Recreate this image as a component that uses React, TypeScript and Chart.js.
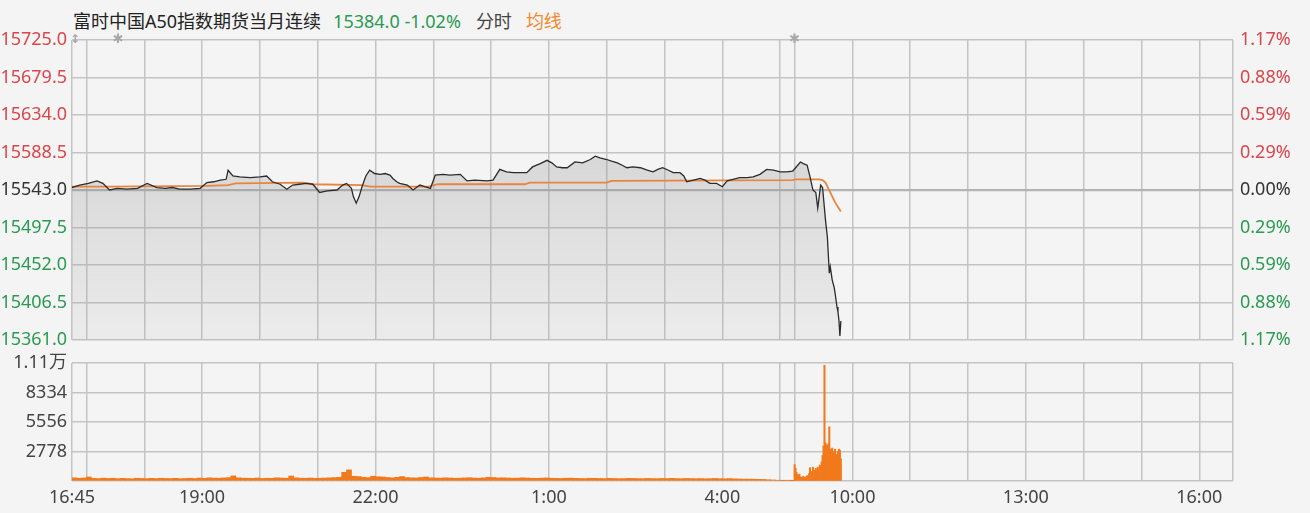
import React, { useEffect, useRef } from 'react';
import { Chart, registerables } from 'chart.js';

Chart.register(...registerables);

const FONT = "'Noto Sans', 'Noto Sans CJK SC', sans-serif";
const RED = '#d9464c';
const GREEN = '#2b9a52';
const DARK = '#333333';
const AXIS_TEXT = '#444444';
const GRID = '#c4c4c4';
const BG = '#f4f4f4';
const VOL_COLOR = '#f27a1c';
const AVG_COLOR = '#e8843e';

const prevClose = 15543.0;
const priceTicks = [15361.0, 15406.5, 15452.0, 15497.5, 15543.0, 15588.5, 15634.0, 15679.5, 15725.0];
const volumeTicks = [0, 2778, 5556, 8334, 11112];
const volumeMaxLabel = '1.11万';

// minutes on the compressed session axis: 0 = 16:45, 750 = 05:15 | 09:00, 1205 = 16:35
const axisEndMinute = 1205;
const gridMinutes = [0, 15, 75, 135, 195, 255, 315, 375, 435, 495, 555, 615, 675, 735, 750, 810, 870, 930, 990, 1050, 1110, 1170, 1205];
const timeLabelMinutes = [0, 135, 315, 495, 675, 810, 990, 1170];
const timeLabels = ['16:45', '19:00', '22:00', '1:00', '4:00', '10:00', '13:00', '16:00'];
const markerMinutes = [48, 750];

const priceMinutes = [0, 8, 17, 26, 32, 39, 47, 57, 68, 78, 88, 97, 104, 112, 123, 133, 140, 147, 154, 160, 162, 167, 174, 185, 195, 202, 208, 216, 223, 229, 236, 243, 250, 257, 265, 275, 281, 285, 290, 292, 295, 298, 301, 305, 309, 314, 320, 325, 330, 333, 337, 340, 348, 354, 361, 366, 372, 377, 385, 392, 403, 410, 418, 431, 437, 444, 451, 458, 465, 472, 478, 486, 493, 498, 503, 509, 514, 522, 530, 538, 543, 548, 555, 560, 566, 571, 576, 582, 590, 597, 603, 608, 613, 619, 624, 631, 635, 638, 645, 652, 657, 662, 669, 675, 680, 686, 693, 701, 707, 714, 721, 728, 735, 742, 748, 751, 756, 759, 763, 766, 769, 772, 774, 775, 777, 779, 782, 784, 786, 787, 789, 791, 792, 794, 795, 796, 797, 798];
const priceValues = [15546, 15549, 15551, 15554, 15551, 15543, 15545, 15544, 15545, 15551, 15546, 15545, 15546, 15544, 15544, 15545, 15552, 15553, 15555, 15556, 15567, 15560, 15559, 15558, 15559, 15560, 15553, 15550, 15544, 15549, 15550, 15551, 15550, 15540, 15542, 15543, 15549, 15551, 15545, 15535, 15527, 15535, 15547, 15560, 15567, 15563, 15562, 15563, 15561, 15557, 15553, 15551, 15549, 15543, 15549, 15547, 15545, 15561, 15562, 15561, 15562, 15554, 15555, 15554, 15555, 15568, 15565, 15564, 15564, 15564, 15571, 15575, 15579, 15576, 15571, 15570, 15570, 15577, 15576, 15580, 15584, 15582, 15580, 15578, 15576, 15573, 15570, 15571, 15570, 15567, 15565, 15568, 15570, 15567, 15564, 15564, 15560, 15553, 15555, 15557, 15555, 15551, 15551, 15547, 15554, 15556, 15558, 15558, 15559, 15562, 15568, 15567, 15565, 15565, 15566, 15570, 15577, 15575, 15573, 15559, 15543, 15540, 15521, 15530, 15549, 15546, 15507, 15486, 15442, 15450, 15434, 15425, 15418, 15401, 15395, 15385, 15366, 15384];

const avgMinutes = [0, 39, 140, 162, 170, 240, 250, 300, 310, 370, 380, 470, 475, 555, 560, 748, 751, 775, 779, 782, 787, 792, 798];
const avgValues = [15547, 15547, 15548, 15549, 15551, 15552, 15550, 15549, 15547, 15547, 15550, 15550, 15552, 15552, 15554, 15555, 15556, 15556, 15555, 15552, 15540, 15528, 15517];

// night session volume, one value per 5-minute bucket starting at 16:45
const nightBucketSize = 5;
const nightVolumes = [
  300, 260, 280, 380, 250, 230, 270, 240, 260, 220,
  250, 230, 210, 260, 240, 220, 250, 230, 260, 240,
  230, 250, 220, 240, 260, 230, 280, 250, 300, 270,
  260, 290, 320, 480, 300, 270, 260, 250, 280, 240,
  260, 250, 300, 280, 260, 470, 300, 270, 260, 280,
  250, 260, 280, 300, 320, 350, 820, 1050, 450, 420,
  350, 320, 450, 400, 380, 330, 300, 350, 420, 320,
  300, 290, 330, 380, 300, 280, 270, 300, 280, 260,
  270, 290, 310, 280, 260, 300, 350, 330, 290, 300,
  280, 260, 270, 300, 280, 260, 250, 270, 290, 260,
  250, 240, 260, 270, 250, 240, 230, 260, 250, 240,
  230, 250, 240, 220, 230, 250, 240, 230, 220, 240,
  230, 220, 240, 230, 250, 230, 220, 240, 230, 220,
  230, 210, 220, 240, 220, 210, 230, 200, 190, 180,
  180, 170, 160, 150, 120, 100, 60, 40, 50, 30,
];

// day session volume, one value per minute starting at 09:00 (minute 750)
const dayStartMinute = 750;
const dayVolumes = [
  1550, 1200, 800, 600, 500, 650, 400, 350, 300, 450,
  350, 300, 400, 500, 450, 700, 1250, 600, 900, 1300,
  700, 1000, 1200, 900, 1300, 1100, 1500, 1400, 1800, 2400,
  3300, 10900, 3600, 3400, 3300, 3500, 5100, 3000, 2900, 3100,
  2800, 2600, 3000, 2500, 2400, 2800, 3000, 2900, 2100,
];

const lastPrice = priceValues[priceValues.length - 1];
const lastPct = ((lastPrice - prevClose) / prevClose) * 100;

const tickColor = (v: number) => (v > prevClose + 0.01 ? RED : v < prevClose - 0.01 ? GREEN : DARK);

const markerPlugin = {
  id: 'markers',
  afterDraw(chart: any) {
    const { ctx, chartArea, scales } = chart;
    ctx.save();
    ctx.fillStyle = '#a8a8a8';
    ctx.font = `13px 'DejaVu Sans', sans-serif`;
    ctx.textAlign = 'center';
    ctx.textBaseline = 'middle';
    markerMinutes.forEach((m) => {
      ctx.fillText('✱', scales.x.getPixelForValue(m), chartArea.top);
    });
    ctx.font = `bold 12px 'DejaVu Sans', sans-serif`;
    ctx.fillText('↕', chartArea.left + 3, chartArea.top);
    ctx.restore();
  },
};

export default function App() {
  const priceRef = useRef<HTMLCanvasElement | null>(null);
  const volRef = useRef<HTMLCanvasElement | null>(null);

  useEffect(() => {
    const gridLine = {
      color: GRID,
      lineWidth: 1.5,
      drawTicks: false,
      offset: false,
    };

    const priceChart = new Chart(priceRef.current as HTMLCanvasElement, {
      type: 'line',
      data: {
        datasets: [
          {
            label: 'price',
            data: priceMinutes.map((m, i) => ({ x: m, y: priceValues[i] })),
            borderColor: '#2b2b2b',
            borderWidth: 1.3,
            pointRadius: 0,
            tension: 0,
            fill: 'start',
            order: 0,
            backgroundColor: (c: any) => {
              const area = c.chart.chartArea;
              if (!area) return 'rgba(140,140,140,0.25)';
              const g = c.chart.ctx.createLinearGradient(0, area.top, 0, area.bottom);
              g.addColorStop(0, 'rgba(140,140,140,0.40)');
              g.addColorStop(1, 'rgba(140,140,140,0.08)');
              return g;
            },
          },
          {
            label: 'avg',
            data: avgMinutes.map((m, i) => ({ x: m, y: avgValues[i] })),
            borderColor: AVG_COLOR,
            borderWidth: 1.8,
            pointRadius: 0,
            tension: 0,
            fill: false,
            order: 1,
          },
        ],
      },
      options: {
        animation: false,
        responsive: false,
        devicePixelRatio: 1,
        events: [],
        layout: { padding: { top: 40, left: 0, right: 0, bottom: 0 } },
        plugins: {
          legend: { display: false },
          tooltip: { enabled: false },
          filler: { drawTime: 'beforeDatasetsDraw' },
        } as any,
        scales: {
          x: {
            type: 'linear',
            min: 0,
            max: axisEndMinute,
            afterBuildTicks: (s: any) => {
              s.ticks = gridMinutes.map((v) => ({ value: v }));
            },
            ticks: { display: false },
            grid: gridLine,
            border: { display: false },
            afterFit: (s: any) => {
              s.height = 20;
            },
          },
          y: {
            position: 'left',
            min: priceTicks[0],
            max: priceTicks[priceTicks.length - 1],
            afterBuildTicks: (s: any) => {
              s.ticks = priceTicks.map((v) => ({ value: v }));
            },
            ticks: {
              callback: (v: any) => Number(v).toFixed(1),
              color: (c: any) => tickColor(c.tick.value),
              font: { family: FONT, size: 18 },
              padding: 5,
            },
            grid: {
              color: (c: any) => (c.tick && c.tick.value === prevClose ? '#b4b4b4' : GRID),
              lineWidth: (c: any) => (c.tick && c.tick.value === prevClose ? 2.2 : 1.5),
              drawTicks: false,
            },
            border: { display: false },
            afterFit: (s: any) => {
              s.width = 72;
            },
          },
          y2: {
            position: 'right',
            min: priceTicks[0],
            max: priceTicks[priceTicks.length - 1],
            afterBuildTicks: (s: any) => {
              s.ticks = priceTicks.map((v) => ({ value: v }));
            },
            ticks: {
              callback: (v: any) => ((Math.abs(Number(v) - prevClose) / prevClose) * 100).toFixed(2) + '%',
              color: (c: any) => tickColor(c.tick.value),
              font: { family: FONT, size: 18 },
              padding: 7,
            },
            grid: { display: false, drawTicks: false },
            border: { display: false },
            afterFit: (s: any) => {
              s.width = 77;
            },
          },
        },
      } as any,
      plugins: [markerPlugin],
    });

    const volChart = new Chart(volRef.current as HTMLCanvasElement, {
      type: 'bar',
      data: {
        datasets: [
          {
            label: 'night',
            data: nightVolumes.map((v, i) => ({ x: i * nightBucketSize + nightBucketSize / 2, y: v })),
            backgroundColor: VOL_COLOR,
            barThickness: 5,
            grouped: false,
          } as any,
          {
            label: 'day',
            data: dayVolumes.map((v, i) => ({ x: dayStartMinute + i, y: v })),
            backgroundColor: VOL_COLOR,
            barThickness: 1.4,
            grouped: false,
          } as any,
        ],
      },
      options: {
        animation: false,
        responsive: false,
        devicePixelRatio: 1,
        events: [],
        layout: { padding: { top: 18, left: 0, right: 0, bottom: 0 } },
        plugins: { legend: { display: false }, tooltip: { enabled: false } },
        scales: {
          x: {
            type: 'linear',
            min: 0,
            max: axisEndMinute,
            offset: false,
            afterBuildTicks: (s: any) => {
              s.ticks = gridMinutes.map((v) => ({ value: v }));
            },
            ticks: {
              autoSkip: false,
              maxRotation: 0,
              callback: (v: any) => {
                const i = timeLabelMinutes.indexOf(Number(v));
                return i >= 0 ? timeLabels[i] : '';
              },
              color: AXIS_TEXT,
              font: { family: FONT, size: 18 },
              padding: 6,
            },
            grid: gridLine,
            border: { display: false },
            afterFit: (s: any) => {
              s.height = 32;
            },
          },
          y: {
            position: 'left',
            min: 0,
            max: volumeTicks[volumeTicks.length - 1],
            afterBuildTicks: (s: any) => {
              s.ticks = volumeTicks.map((v) => ({ value: v }));
            },
            ticks: {
              callback: (v: any) => {
                const n = Number(v);
                if (n === 0) return '';
                if (n === volumeTicks[volumeTicks.length - 1]) return volumeMaxLabel;
                return String(n);
              },
              color: AXIS_TEXT,
              font: { family: FONT, size: 18 },
              padding: 5,
            },
            grid: gridLine,
            border: { display: false },
            afterFit: (s: any) => {
              s.width = 72;
            },
          },
          y2: {
            position: 'right',
            min: 0,
            max: volumeTicks[volumeTicks.length - 1],
            ticks: { display: false },
            grid: { display: false, drawTicks: false },
            border: { display: false },
            afterFit: (s: any) => {
              s.width = 77;
            },
          },
        },
      } as any,
    });

    return () => {
      priceChart.destroy();
      volChart.destroy();
    };
  }, []);

  return (
    <div style={{ position: 'absolute', left: 0, top: 0, width: 1310, height: 513, background: BG, overflow: 'hidden' }}>
      <div
        style={{
          position: 'absolute',
          left: 73,
          top: 9,
          font: `18px ${FONT}`,
          lineHeight: '24px',
          whiteSpace: 'nowrap',
          color: '#222',
        }}
      >
        <span>富时中国A50指数期货当月连续</span>
        <span style={{ color: GREEN, marginLeft: 12 }}>
          {lastPrice.toFixed(1)} {lastPct.toFixed(2)}%
        </span>
        <span style={{ color: '#444', marginLeft: 15 }}>分时</span>
        <span style={{ color: '#f08a30', marginLeft: 14 }}>均线</span>
      </div>
      <canvas ref={priceRef} width={1310} height={360} style={{ position: 'absolute', left: 0, top: 0 }} />
      <canvas ref={volRef} width={1310} height={168} style={{ position: 'absolute', left: 0, top: 345 }} />
    </div>
  );
}
